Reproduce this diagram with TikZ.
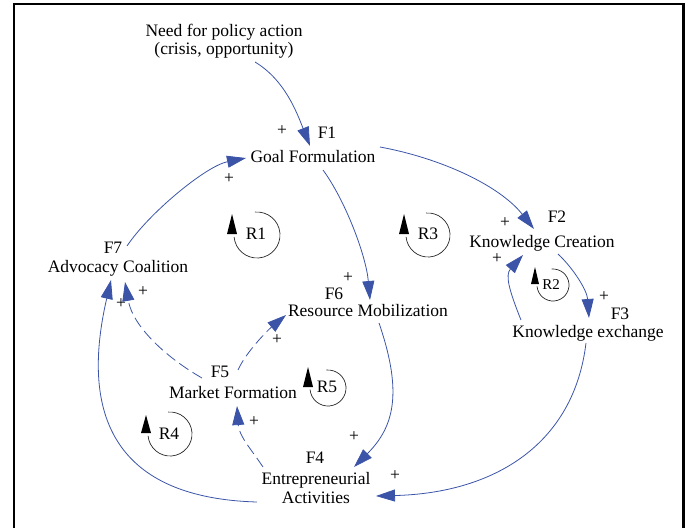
\documentclass[tikz,border=0pt]{standalone}
\usepackage{fontspec}
\setmainfont{Liberation Serif}
\usetikzlibrary{arrows.meta}
\definecolor{cldblue}{RGB}{59,84,168}
\begin{document}
\begin{tikzpicture}[x=1pt,y=-1pt,
  every node/.style={font=\fontsize{17.5}{18}\selectfont, inner sep=0pt},
  var/.style={text height=11.6pt, text depth=0pt},
  flab/.style={text height=11.6pt, text depth=0pt},
  twoline/.style={align=center},
  plus/.style={},
  conn/.style={draw=cldblue, line width=0.8pt, -{Triangle[length=19pt,width=12pt]}},
  dashconn/.style={conn, dash pattern=on 11pt off 5pt},
  looparc/.style={draw=black!85, line width=0.7pt},
  loophead/.style={fill=black},
  frame/.style={draw=black, line width=2.5pt}
]
\useasboundingbox (0,0) rectangle (688,528);
\draw[frame] (14,528) -- (14,4) -- (683.5,4) -- (683.5,528);

% variables
\node[twoline] (need) at (224,41) {Need for policy action\\(crisis, opportunity)};
\node[var] (goal) at (313,157) {Goal Formulation};
\node[flab] (f1) at (327,133) {F1};
\node[var] (kc) at (542,242) {Knowledge Creation};
\node[flab] (f2) at (557,217) {F2};
\node[var] (kx) at (588,332) {Knowledge exchange};
\node[flab] (f3) at (620,314) {F3};
\node[var] (rm) at (368,311) {Resource Mobilization};
\node[flab] (f6) at (334,294) {F6};
\node[var] (ac) at (118,267) {Advocacy Coalition};
\node[flab] (f7) at (113,248) {F7};
\node[var] (mf) at (233,393) {Market Formation};
\node[flab] (f5) at (220,372) {F5};
\node[twoline, font=\fontsize{17.5}{19.5}\selectfont] (ea) at (316,488) {Entrepreneurial\\Activities};
\node[flab] (f4) at (315,458) {F4};

% polarity signs
\node[plus] (p1) at (282,131) {+};
\node[plus] (p2) at (229,179) {+};
\node[plus] (p3) at (505,223) {+};
\node[plus] (p4) at (497,259) {+};
\node[plus] (p5) at (604,297) {+};
\node[plus] (p6) at (348,278) {+};
\node[plus] (p7) at (143,292) {+};
\node[plus] (p8) at (121,304) {+};
\node[plus] (p9) at (277,340) {+};
\node[plus] (p10) at (254,422) {+};
\node[plus] (p11) at (354,437) {+};
\node[plus] (p12) at (395,476) {+};

% connectors
\draw[conn] ([shift={(31,21)}]need.center) .. controls +(30,18) and +(-13,-33) .. ([shift={(-3,-11)}]goal.center);
\draw[conn] ([shift={(9,-21)}]ac.center) .. controls +(22,-33) and +(-40,8) .. ([shift={(-67,1)}]goal.center);
\draw[conn] ([shift={(67,-10)}]goal.center) .. controls +(60,11) and +(-35,-44) .. ([shift={(-8,-13)}]kc.center);
\draw[conn] ([shift={(10,13)}]goal.center) .. controls +(22,30) and +(-4,-45) .. ([shift={(2,-11)}]rm.center);
\draw[conn] ([shift={(16,12)}]kc.center) .. controls +(15,14) and +(-2,-28) .. ([shift={(1,-14)}]kx.center);
\draw[conn] ([shift={(-67,-12)}]kx.center) .. controls +(-12,-30) and +(-18,20) .. ([shift={(-19,13)}]kc.center);
\draw[conn] ([shift={(-2,11)}]kx.center) .. controls +(-12,100) and +(120,-3) .. ([shift={(60,8)}]ea.center);
\draw[conn] ([shift={(11,12)}]rm.center) .. controls +(24,70) and +(40,-40) .. ([shift={(38,-21)}]ea.center);
\draw[conn] ([shift={(-59,14)}]ea.center) .. controls +(-140,-4) and +(-32,138) .. ([shift={(-7,13)}]ac.center);
\draw[dashconn] ([shift={(-31,-15)}]mf.center) .. controls +(-35,-20) and +(8,45) .. ([shift={(7,15)}]ac.center);
\draw[dashconn] ([shift={(5,-23)}]mf.center) .. controls +(8,-18) and +(-18,15) .. ([shift={(-82,4)}]rm.center);
\draw[dashconn] ([shift={(-53,-21)}]ea.center) .. controls +(-12,-18) and +(2,30) .. ([shift={(4,13)}]mf.center);

% loop symbols
\foreach \cx/\cy/\r/\h/\w/\lx/\ly/\fs/\lab in {257/235/23/20/5/256/234/17.5/R1, 428/235/22/20/5/428/234/17.5/R3, 553/285/16/17/4/551/285/15/R2, 328/388/18/20/5/327/387/17.5/R5, 170/434/22/18/5/169/434/17.5/R4}{
  \draw[looparc] (\cx,\cy) ++(-95:\r) arc[start angle=-95, end angle=175, radius=\r];
  \fill[loophead] ({\cx-\r-2},{\cy-1-\h}) -- ({\cx-\r-2-\w},{\cy-1}) -- ({\cx-\r-2+\w},{\cy-1}) -- cycle;
  \node[font=\fontsize{\fs}{\fs}\selectfont] (loop\lab) at (\lx,\ly) {\lab};
}
\end{tikzpicture}
\end{document}
